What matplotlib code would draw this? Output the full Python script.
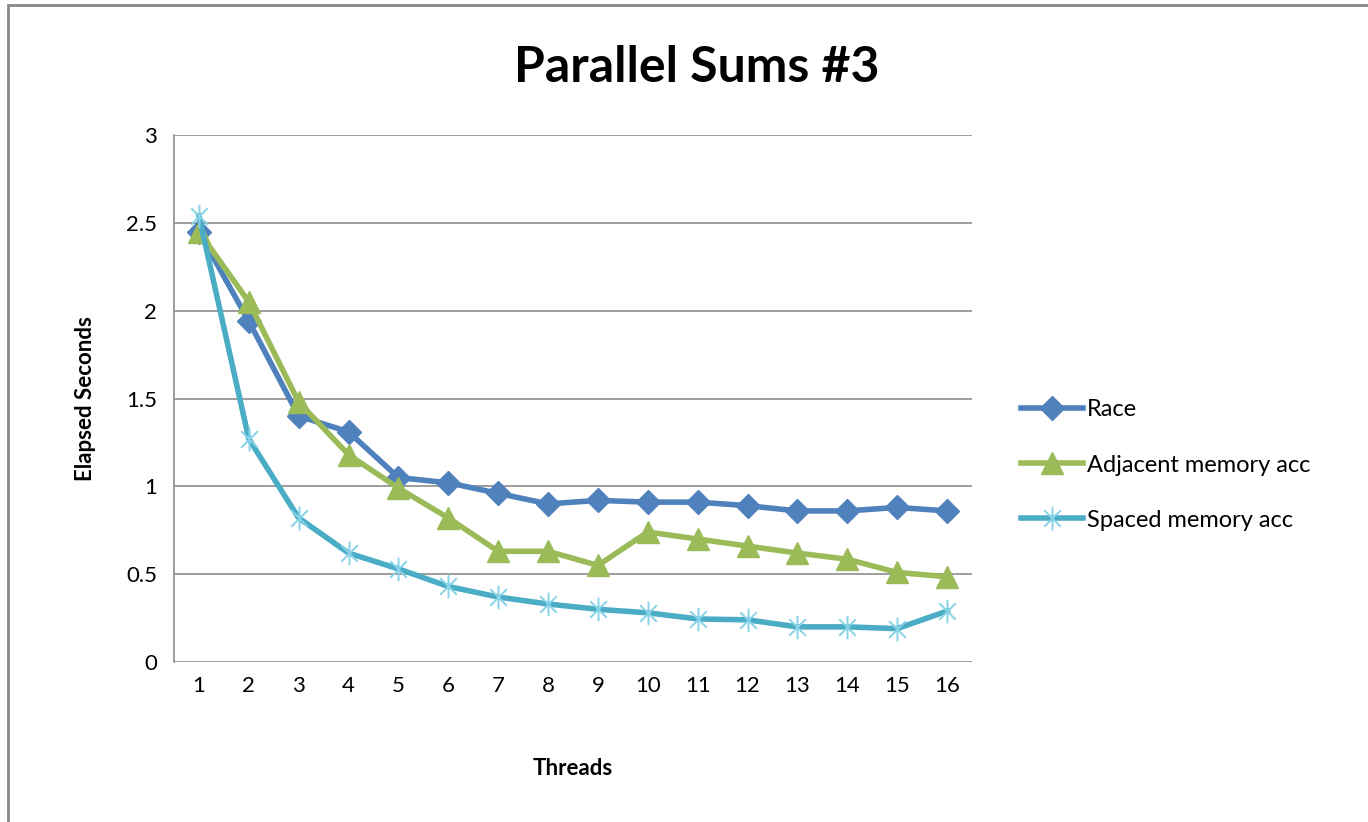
import matplotlib.pyplot as plt
import numpy as np
from matplotlib.path import Path
from matplotlib.patches import Rectangle

threads = list(range(1, 17))
race = [2.45, 1.94, 1.40, 1.31, 1.05, 1.02, 0.96, 0.90, 0.92, 0.91, 0.91, 0.89, 0.86, 0.86, 0.88, 0.86]
adjacent = [2.45, 2.05, 1.48, 1.18, 0.99, 0.82, 0.63, 0.63, 0.55, 0.74, 0.70, 0.66, 0.62, 0.585, 0.51, 0.485]
spaced = [2.54, 1.27, 0.82, 0.62, 0.53, 0.43, 0.37, 0.33, 0.30, 0.28, 0.245, 0.24, 0.20, 0.20, 0.19, 0.29]

font = "Lato"
plt.rcParams["font.family"] = [font, "DejaVu Sans"]

# x plus vertical bar, like the Excel star marker
star = Path(
    [(-0.7, -0.7), (0.7, 0.7), (-0.7, 0.7), (0.7, -0.7), (0, -1), (0, 1)],
    [Path.MOVETO, Path.LINETO, Path.MOVETO, Path.LINETO, Path.MOVETO, Path.LINETO],
)

fig = plt.figure(figsize=(13.68, 8.22), dpi=100)
ax = fig.add_axes([174 / 1368, 1 - 662 / 822, (972 - 174) / 1368, (662 - 135) / 822])

ax.plot(threads, race, color="#4F81BD", lw=4, marker="D", ms=12,
        label="Race", zorder=3)
ax.plot(threads, adjacent, color="#9BBB59", lw=4, marker="^", ms=16,
        label="Adjacent memory acc", zorder=4)
ax.plot(threads, spaced, color="#4BACC6", lw=4, marker=star, ms=17,
        mec="#86D3E8", mew=1.4, label="Spaced memory acc", zorder=5)

ax.set_xlim(0.5, 16.5)
ax.set_ylim(0, 3)
ax.set_xticks(threads)
ax.set_yticks(np.arange(0, 3.01, 0.5))
ax.set_yticklabels(["0", "0.5", "1", "1.5", "2", "2.5", "3"])
ax.grid(True, axis="y", color="#8c8c8c", lw=1.2)
ax.set_axisbelow(True)
for s in ["top", "right", "bottom"]:
    ax.spines[s].set_visible(False)
ax.spines["left"].set_color("#8c8c8c")
ax.spines["left"].set_linewidth(1.2)
ax.tick_params(axis="both", length=0, labelsize=16, colors="black", pad=12)
ax.tick_params(axis="x", pad=10)

ax.set_xlabel("Threads", fontsize=16, fontweight="bold", labelpad=45)
ax.set_ylabel("Elapsed Seconds", fontsize=16, fontweight="bold", labelpad=22)

fig.text(697 / 1368, 1 - 68 / 822, "Parallel Sums #3", ha="center", va="center",
         fontsize=36, fontweight="bold")

ax.legend(loc="center left", bbox_to_anchor=(1.035, (662 - 465) / 527), frameon=False,
          fontsize=17, handlelength=2.6, handletextpad=0.2, labelspacing=1.45)

fig.patches.append(Rectangle((8 / 1368, -0.05), 1.2, 1 - 5 / 822 + 0.05,
                             transform=fig.transFigure, fill=False,
                             edgecolor="#888888", lw=2))

fig.savefig("out.png", dpi=100)
